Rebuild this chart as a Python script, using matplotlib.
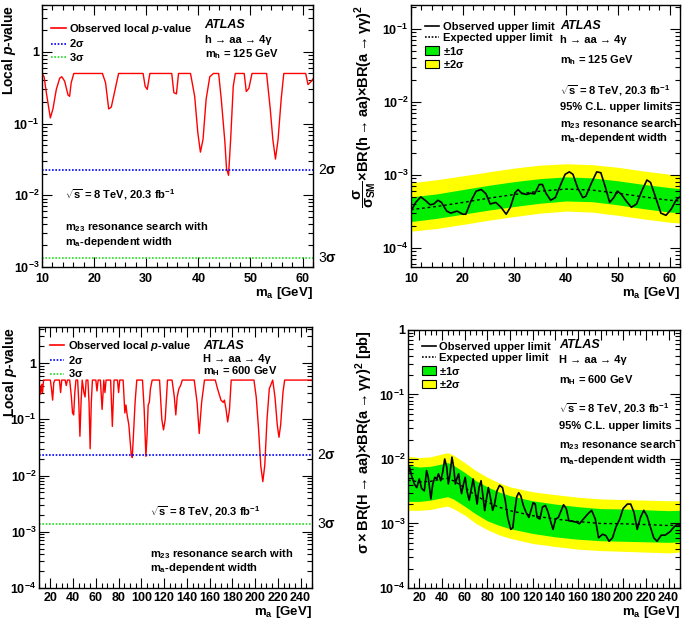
import matplotlib
matplotlib.use("Agg")
import matplotlib.pyplot as plt
import numpy as np
from matplotlib.lines import Line2D
from matplotlib.patches import Patch
from matplotlib.ticker import FixedLocator, FuncFormatter, MultipleLocator, LogLocator, NullFormatter

plt.rcParams['font.family'] = ['Liberation Sans', 'DejaVu Sans']
plt.rcParams['font.weight'] = 'bold'
plt.rcParams['axes.labelweight'] = 'bold'
plt.rcParams['mathtext.fontset'] = 'custom'
plt.rcParams['mathtext.rm'] = 'Liberation Sans:bold'
plt.rcParams['mathtext.bf'] = 'Liberation Sans:bold'
plt.rcParams['mathtext.it'] = 'Liberation Sans:bold:italic'
plt.rcParams['mathtext.sf'] = 'Liberation Sans:bold'
plt.rcParams['mathtext.default'] = 'bf'

# ---- top left: local p-value, m_h = 125 GeV
ma_p125 = [10, 10.4, 10.8, 11.6, 12.1, 12.75, 13.4, 13.8, 14.35, 15.0, 15.3, 15.6, 16.1,
           21.6, 22.2, 22.8, 23.3, 23.9, 24.7, 29.4, 29.8, 30.2, 30.7, 34.9, 35.3, 35.8, 36.2,
           38.5, 39.3, 39.9, 40.4, 40.9, 41.5, 42.2, 42.9, 43.9, 44.4, 45.1, 45.4, 45.8, 46.2,
           46.7, 47.1, 48.8, 49.2, 49.7, 50.3, 53.1, 53.8, 54.3, 54.8, 55.3, 55.9, 56.4,
           60.6, 61.05, 61.7, 62]
p_125 = [0.5, 0.45, 0.28, 0.12, 0.16, 0.3, 0.43, 0.45, 0.39, 0.25, 0.24, 0.37, 0.5,
         0.5, 0.37, 0.16, 0.17, 0.27, 0.5, 0.5, 0.33, 0.30, 0.5, 0.5, 0.27, 0.26, 0.5,
         0.5, 0.24, 0.075, 0.04, 0.06, 0.22, 0.45, 0.5, 0.5, 0.22, 0.055, 0.024, 0.019, 0.06,
         0.33, 0.5, 0.5, 0.28, 0.31, 0.5, 0.5, 0.16, 0.06, 0.032, 0.06, 0.22, 0.5,
         0.5, 0.35, 0.39, 0.42]

# ---- top right: limits, m_h = 125 GeV
ma_obs125 = [10, 10.9, 11.9, 12.9, 13.7, 14.4, 15.2, 15.9, 16.9, 17.7, 18.9, 20, 20.6, 21.6,
             22.6, 23.6, 24.5, 25.3, 26.4, 27.4, 28.4, 29.2, 30.1, 30.7, 31.4, 32.3, 33.1,
             33.9, 34.8, 35.4, 36.1, 37.0, 37.9, 38.8, 39.8, 40.6, 41.3, 42.2, 43.2, 43.8,
             44.9, 45.9, 46.7, 47.6, 48.4, 49.2, 49.9, 50.6, 51.6, 52.6, 53.6, 54.6, 55.6,
             56.3, 57.3, 58.3, 59.3, 60.3, 61.3, 62]
obs125 = [3.2e-4, 4.2e-4, 5.0e-4, 4.4e-4, 3.9e-4, 4.0e-4, 4.5e-4, 4.2e-4, 3.2e-4, 3.0e-4,
          3.2e-4, 2.9e-4, 2.9e-4, 4.4e-4, 6.0e-4, 6.3e-4, 5.5e-4, 4.0e-4, 4.2e-4, 3.6e-4,
          2.9e-4, 3.6e-4, 5.7e-4, 6.3e-4, 5.6e-4, 5.4e-4, 5.6e-4, 5.5e-4, 7.4e-4, 7.4e-4,
          5.6e-4, 4.5e-4, 4.9e-4, 7.0e-4, 1.02e-3, 1.1e-3, 1.02e-3, 6.7e-4, 4.9e-4, 5.1e-4,
          7.8e-4, 1.1e-3, 1.07e-3, 6.7e-4, 4.2e-4, 4.9e-4, 6.0e-4, 5.5e-4, 4.4e-4, 3.6e-4,
          4.0e-4, 6.0e-4, 8.5e-4, 7.9e-4, 4.9e-4, 3.0e-4, 2.8e-4, 3.4e-4, 4.6e-4, 5.0e-4]
ma_exp125 = [10, 15, 20, 25, 30, 35, 40, 45, 50, 55, 60, 62]
exp125 = [3.35e-4, 3.7e-4, 4.2e-4, 4.8e-4, 5.4e-4, 6.0e-4, 6.4e-4, 6.2e-4, 5.6e-4, 5.0e-4, 4.5e-4, 4.4e-4]
up1_125 = [5.0e-4, 5.5e-4, 6.3e-4, 7.2e-4, 8.1e-4, 8.9e-4, 9.4e-4, 9.1e-4, 8.3e-4, 7.4e-4, 6.7e-4, 6.5e-4]
dn1_125 = [2.3e-4, 2.55e-4, 2.9e-4, 3.3e-4, 3.7e-4, 4.1e-4, 4.4e-4, 4.3e-4, 3.9e-4, 3.45e-4, 3.1e-4, 3.05e-4]
up2_125 = [7.8e-4, 8.6e-4, 9.7e-4, 1.1e-3, 1.24e-3, 1.36e-3, 1.42e-3, 1.38e-3, 1.27e-3, 1.13e-3, 1.02e-3, 1.0e-3]
dn2_125 = [1.7e-4, 1.85e-4, 2.1e-4, 2.4e-4, 2.7e-4, 3.0e-4, 3.2e-4, 3.1e-4, 2.8e-4, 2.5e-4, 2.25e-4, 2.2e-4]

# ---- bottom left: local p-value, m_H = 600 GeV
ma_p600 = [10, 10.8, 11.5, 12.5, 13.2, 14, 20, 21, 22, 23, 24, 28, 29, 30, 33, 34, 35, 37,
           38.5, 39.5, 40.5, 41.5, 42.5, 44, 45, 46, 47, 48, 49.5, 50.5, 51.5, 53, 54, 55,
           56, 57, 60, 61, 62, 64, 65.5, 67, 68, 69, 73, 74.5, 76, 79, 80, 81, 84, 85.5,
           86.5, 87.5, 89, 91, 92, 93, 94.5, 96, 101, 102.5, 104, 105, 106, 107, 108, 109.5,
           116, 118, 119.5, 121, 123, 127, 129, 130.3, 131.5, 133, 134.5, 136, 146.5, 149,
           150.9, 153, 155.5, 165, 167, 170, 172, 173, 174.5, 175.9, 177.5, 179, 199, 201,
           203, 205, 206.8, 208.5, 210.5, 212.5, 215.5, 217.5, 219.5, 221, 222.5, 224.5,
           226, 250]
p_600 = [0.25, 0.4, 0.28, 0.42, 0.3, 0.5, 0.5, 0.35, 0.22, 0.45, 0.5, 0.5, 0.3, 0.5, 0.5,
         0.4, 0.5, 0.5, 0.25, 0.13, 0.12, 0.3, 0.5, 0.5, 0.2, 0.05, 0.2, 0.5, 0.3, 0.25, 0.5,
         0.5, 0.2, 0.03, 0.2, 0.5, 0.5, 0.32, 0.5, 0.5, 0.15, 0.5, 0.3, 0.5, 0.5, 0.075, 0.5,
         0.5, 0.3, 0.5, 0.5, 0.13, 0.18, 0.12, 0.08, 0.025, 0.021, 0.05, 0.2, 0.5, 0.5, 0.15,
         0.022, 0.05, 0.18, 0.2, 0.35, 0.5, 0.5, 0.1, 0.065, 0.1, 0.5, 0.5, 0.25, 0.12, 0.25,
         0.35, 0.4, 0.5, 0.5, 0.2, 0.056, 0.2, 0.5, 0.5, 0.35, 0.22, 0.2, 0.22, 0.15, 0.09,
         0.15, 0.5, 0.5, 0.25, 0.07, 0.015, 0.0078, 0.015, 0.1, 0.35, 0.5, 0.25, 0.08, 0.048,
         0.08, 0.3, 0.5, 0.5]

# ---- bottom right: limits, m_H = 600 GeV
ma_obs600 = [10, 11.3, 13.6, 15.6, 17.7, 20, 22, 24.4, 26.4, 27.9, 30.2, 31.9, 33.7, 35.4,
             36.9, 38.9, 40.7, 42.4, 44.2, 45.6, 47.1, 48.8, 50.3, 51.8, 53.5, 54.7, 55.8,
             57.3, 59, 60.5, 62.2, 64, 65.7, 67.5, 69.2, 71, 72.7, 74.5, 76.2, 77.7, 79.1,
             80.9, 82.6, 84.7, 86.4, 88.5, 90.8, 93.4, 95.8, 98, 100.7, 102.5, 103.9, 106,
             107.7, 109.5, 111.8, 114.1, 116.7, 119, 120.5, 122.3, 124, 126.4, 128.7, 131.3,
             133.6, 135.7, 138, 140.3, 142.7, 145.3, 147.3, 149.7, 152, 154.9, 158.4, 161.3,
             164.8, 168.6, 172.1, 175.3, 178.2, 181.7, 184.6, 187.5, 190.5, 193.4, 196.9,
             199.8, 203.6, 206.5, 209.4, 212.3, 215.2, 218.1, 221, 224, 226.9, 229.8, 233.6,
             237, 241.4, 244.4, 248, 250]
obs600 = [5.5e-3, 7.5e-3, 5.2e-3, 4.1e-3, 3.6e-3, 4.9e-3, 3.5e-3, 3.2e-3, 6.6e-3, 5.2e-3,
          2.4e-3, 4.1e-3, 5.2e-3, 4.9e-3, 5.9e-3, 4.6e-3, 6.3e-3, 1.0e-2, 7.5e-3, 4.1e-3,
          5.9e-3, 1.07e-2, 7.5e-3, 4.1e-3, 5.2e-3, 5.9e-3, 4.1e-3, 2.9e-3, 4.1e-3, 5.2e-3,
          3.1e-3, 2.3e-3, 3.3e-3, 4.9e-3, 3.2e-3, 2.0e-3, 3.6e-3, 4.6e-3, 2.6e-3, 1.58e-3,
          2.3e-3, 3.6e-3, 2.6e-3, 1.6e-3, 2.0e-3, 3.2e-3, 3.9e-3, 3.6e-3, 2.3e-3, 1.24e-3,
          8.1e-4, 8.6e-4, 1.4e-3, 2.6e-3, 3.0e-3, 2.7e-3, 1.9e-3, 1.5e-3, 1.24e-3, 1.7e-3,
          2.1e-3, 2.0e-3, 1.24e-3, 1.17e-3, 1.8e-3, 1.9e-3, 1.5e-3, 1.1e-3, 8.1e-4, 1.17e-3,
          1.24e-3, 1.6e-3, 1.95e-3, 1.7e-3, 1.1e-3, 1.08e-3, 1.05e-3, 9.9e-4, 1.17e-3, 1.4e-3,
          1.6e-3, 1.17e-3, 6.0e-4, 6.8e-4, 6.5e-4, 5.3e-4, 6.0e-4, 8.7e-4, 1.17e-3, 1.7e-3,
          2.0e-3, 2.0e-3, 1.5e-3, 8.1e-4, 1.24e-3, 1.6e-3, 1.3e-3, 8.7e-4, 6.0e-4, 5.3e-4,
          6.6e-4, 6.6e-4, 7.5e-4, 8.7e-4, 9.9e-4, 9.3e-4]
ma_exp600 = [10, 20, 30, 40, 45, 50, 60, 70, 80, 90, 100, 120, 140, 160, 180, 200, 220, 240, 250]
exp600 = [4.7e-3, 4.4e-3, 4.5e-3, 4.9e-3, 5.0e-3, 4.6e-3, 3.6e-3, 2.7e-3, 2.15e-3, 1.8e-3,
          1.58e-3, 1.32e-3, 1.17e-3, 1.07e-3, 1.0e-3, 9.9e-4, 9.6e-4, 9.3e-4, 9.5e-4]
up1_600 = [8.0e-3, 7.5e-3, 7.7e-3, 8.4e-3, 8.8e-3, 8.0e-3, 6.2e-3, 4.6e-3, 3.7e-3, 3.1e-3,
           2.7e-3, 2.25e-3, 2.0e-3, 1.82e-3, 1.7e-3, 1.68e-3, 1.63e-3, 1.58e-3, 1.6e-3]
dn1_600 = [2.2e-3, 2.2e-3, 2.3e-3, 2.5e-3, 2.6e-3, 2.4e-3, 1.85e-3, 1.4e-3, 1.1e-3, 9.4e-4,
           8.3e-4, 7.0e-4, 6.2e-4, 5.7e-4, 5.4e-4, 5.3e-4, 5.2e-4, 5.1e-4, 5.2e-4]
up2_600 = [1.1e-2, 1.05e-2, 1.08e-2, 1.2e-2, 1.25e-2, 1.15e-2, 8.8e-3, 6.6e-3, 5.2e-3, 4.3e-3,
           3.7e-3, 3.1e-3, 2.8e-3, 2.55e-3, 2.4e-3, 2.35e-3, 2.3e-3, 2.25e-3, 2.25e-3]
dn2_600 = [1.6e-3, 1.6e-3, 1.65e-3, 1.8e-3, 1.85e-3, 1.7e-3, 1.35e-3, 1.0e-3, 8.0e-4, 6.7e-4,
           5.9e-4, 4.9e-4, 4.4e-4, 4.0e-4, 3.8e-4, 3.7e-4, 3.6e-4, 3.5e-4, 3.6e-4]

p_2sigma = 0.02275
p_3sigma = 0.00135

FS = 8
fig = plt.figure(figsize=(6.85, 6.22), dpi=100)
ax1 = fig.add_axes([0.0613, 0.5707, 0.3956, 0.4212])
ax2 = fig.add_axes([0.600, 0.5707, 0.3927, 0.4212])
ax3 = fig.add_axes([0.0569, 0.0547, 0.3985, 0.4196])
ax4 = fig.add_axes([0.5956, 0.0547, 0.397, 0.4148])


def log_label(v, pos):
    if abs(v - 1) < 1e-9:
        return '1'
    return r'$10^{%d}$' % int(round(np.log10(v)))


def style(ax, xmaj, xmin, yticks, xpad=3):
    ax.set_yscale('log')
    ax.xaxis.set_major_locator(MultipleLocator(xmaj))
    ax.xaxis.set_minor_locator(MultipleLocator(xmin))
    ax.yaxis.set_major_locator(FixedLocator(yticks))
    ax.yaxis.set_major_formatter(FuncFormatter(log_label))
    ax.yaxis.set_minor_locator(LogLocator(base=10, subs=np.arange(2, 10)))
    ax.yaxis.set_minor_formatter(NullFormatter())
    ax.tick_params(which='both', direction='in', top=True, right=True, labelsize=9)
    ax.tick_params(which='major', length=7, width=0.8)
    ax.tick_params(which='minor', length=3.5, width=0.8)
    ax.tick_params(axis='x', pad=xpad)
    ax.tick_params(axis='y', pad=2)
    for s in ax.spines.values():
        s.set_linewidth(1.0)


def add_text(ax, x, y, txt, **kw):
    ax.text(x, y, txt, transform=ax.transAxes, fontsize=FS, va='center', **kw)


def pvalue_panel(ax, x, p, proc, mass, xmaj, xmin, xlim, ylim, yticks, ylab_x, leg_xy, pos,
                 xpad):
    ax.plot(x, p, color='red', lw=1.0)
    ax.axhline(p_2sigma, color='blue', lw=1.2, ls=(0, (1, 1)))
    ax.axhline(p_3sigma, color='#22dd22', lw=1.2, ls=(0, (1, 1)))
    ax.set_xlim(*xlim)
    ax.set_ylim(*ylim)
    style(ax, xmaj, xmin, yticks, xpad)
    ax.set_ylabel(r'Local $\mathit{p}$-value', loc='top', fontsize=10)
    ax.yaxis.set_label_coords(ylab_x, 1.0)
    ax.set_xlabel(r'm$_{\mathrm{a}}$ [GeV]', loc='right', fontsize=9.5, labelpad=0)
    handles = [Line2D([], [], color='red', lw=1.2),
               Line2D([], [], color='blue', lw=1.2, ls=(0, (1, 1))),
               Line2D([], [], color='#22dd22', lw=1.2, ls=(0, (1, 1)))]
    ax.legend(handles, [r'Observed local $\mathit{p}$-value', r'2$\sigma$', r'3$\sigma$'],
              loc='upper left', bbox_to_anchor=leg_xy, frameon=False, fontsize=FS,
              handlelength=1.3, handletextpad=0.3, labelspacing=0.12, borderpad=0,
              borderaxespad=0)
    ax.text(0.60, pos[0], 'ATLAS', transform=ax.transAxes, fontsize=FS + 1, style='italic',
            va='center')
    add_text(ax, 0.60, pos[1], proc)
    add_text(ax, 0.60, pos[2], mass)
    ax.text(1.02, p_2sigma, r'2$\sigma$', transform=ax.get_yaxis_transform(), fontsize=10,
            va='center', fontweight='normal')
    ax.text(1.02, p_3sigma, r'3$\sigma$', transform=ax.get_yaxis_transform(), fontsize=10,
            va='center', fontweight='normal')


def limit_panel(ax, xo, obs, xe, exp, u1, d1, u2, d2, xmaj, xmin, xlim, ylim, yticks,
                ylabel, ylab_x, lines, leg_xy, pos, xpad):
    ax.fill_between(xe, d2, u2, color='#ffff00', lw=0)
    ax.fill_between(xe, d1, u1, color='#00ee00', lw=0)
    ax.plot(xe, exp, color='black', lw=1.0, ls=(0, (2, 2)))
    ax.plot(xo, obs, color='black', lw=1.2)
    ax.set_xlim(*xlim)
    ax.set_ylim(*ylim)
    style(ax, xmaj, xmin, yticks, xpad)
    ax.set_ylabel(ylabel, loc='top', fontsize=10.5)
    ax.yaxis.set_label_coords(ylab_x, 1.0)
    ax.set_xlabel(r'm$_{\mathrm{a}}$ [GeV]', loc='right', fontsize=9.5, labelpad=0)
    handles = [Line2D([], [], color='black', lw=1.2),
               Line2D([], [], color='black', lw=1.2, ls=(0, (1, 1))),
               Patch(facecolor='#00ee00', edgecolor='black', lw=0.8),
               Patch(facecolor='#ffff00', edgecolor='black', lw=0.8)]
    ax.legend(handles, ['Observed upper limit', 'Expected upper limit',
                        r'$\pm$1$\sigma$', r'$\pm$2$\sigma$'],
              loc='upper left', bbox_to_anchor=leg_xy, frameon=False,
              fontsize=FS, handlelength=1.3, handleheight=0.8, handletextpad=0.3,
              labelspacing=0.1, borderpad=0, borderaxespad=0)
    for txt, y in zip(lines, pos):
        if txt == 'ATLAS':
            ax.text(0.555, y, txt, transform=ax.transAxes, va='center', style='italic',
                    fontsize=FS + 1)
        else:
            add_text(ax, 0.555, y, txt)


sqrt_s = r'$\sqrt{\mathrm{s}}$ = 8 TeV, 20.3 fb$^{\mathrm{-1}}$'

pvalue_panel(ax1, ma_p125, p_125, 'h → aa → 4γ', r'm$_{\mathrm{h}}$ = 125 GeV',
             10, 2, (10, 62), (1e-3, 4.5), [1e-3, 1e-2, 1e-1, 1], -0.09, (0.035, 0.935),
             [0.924, 0.866, 0.813], 4.5)
add_text(ax1, 0.084, 0.278, sqrt_s)
add_text(ax1, 0.084, 0.151, r'm$_{\mathrm{23}}$ resonance search with')
add_text(ax1, 0.084, 0.095, r'm$_{\mathrm{a}}$-dependent width')

pvalue_panel(ax3, ma_p600, p_600, 'H → aa → 4γ', r'm$_{\mathrm{H}}$ = 600 GeV',
             20, 5, (10, 250), (1e-4, 4.4), [1e-4, 1e-3, 1e-2, 1e-1, 1], -0.075, (0.04, 0.955),
             [0.927, 0.877, 0.83], 3)
add_text(ax3, 0.406, 0.293, sqrt_s)
add_text(ax3, 0.406, 0.13, r'm$_{\mathrm{23}}$ resonance search with')
add_text(ax3, 0.406, 0.076, r'm$_{\mathrm{a}}$-dependent width')

lines125 = ['ATLAS', 'h → aa → 4γ', r'm$_{\mathrm{h}}$ = 125 GeV', sqrt_s,
            '95% C.L. upper limits', r'm$_{\mathrm{23}}$ resonance search',
            r'm$_{\mathrm{a}}$-dependent width']
limit_panel(ax2, ma_obs125, obs125, ma_exp125, exp125, up1_125, dn1_125, up2_125, dn2_125,
            10, 2, (10, 62), (5.5e-5, 0.21), [1e-4, 1e-3, 1e-2, 1e-1],
            r'$\dfrac{\sigma}{\sigma_{\mathrm{SM}}}$$\times$BR(h$\rightarrow$aa)$\times$BR(a$\rightarrow$γγ)$^{2}$',
            -0.122, lines125, (0.052, 0.935),
            [0.919, 0.866, 0.79, 0.675, 0.612, 0.546, 0.492], 4.5)

lines600 = ['ATLAS', 'H → aa → 4γ', r'm$_{\mathrm{H}}$ = 600 GeV', sqrt_s,
            '95% C.L. upper limits', r'm$_{\mathrm{23}}$ resonance search',
            r'm$_{\mathrm{a}}$-dependent width']
limit_panel(ax4, ma_obs600, obs600, ma_exp600, exp600, up1_600, dn1_600, up2_600, dn2_600,
            20, 5, (10, 250), (1e-4, 1), [1e-4, 1e-3, 1e-2, 1e-1, 1],
            r'$\sigma\times$BR(H$\rightarrow$aa)$\times$BR(a$\rightarrow$γγ)$^{2}$ [pb]',
            -0.12, lines600, (0.05, 0.953),
            [0.94, 0.885, 0.805, 0.697, 0.628, 0.552, 0.495], 3)

fig.savefig('out.png', dpi=100)
